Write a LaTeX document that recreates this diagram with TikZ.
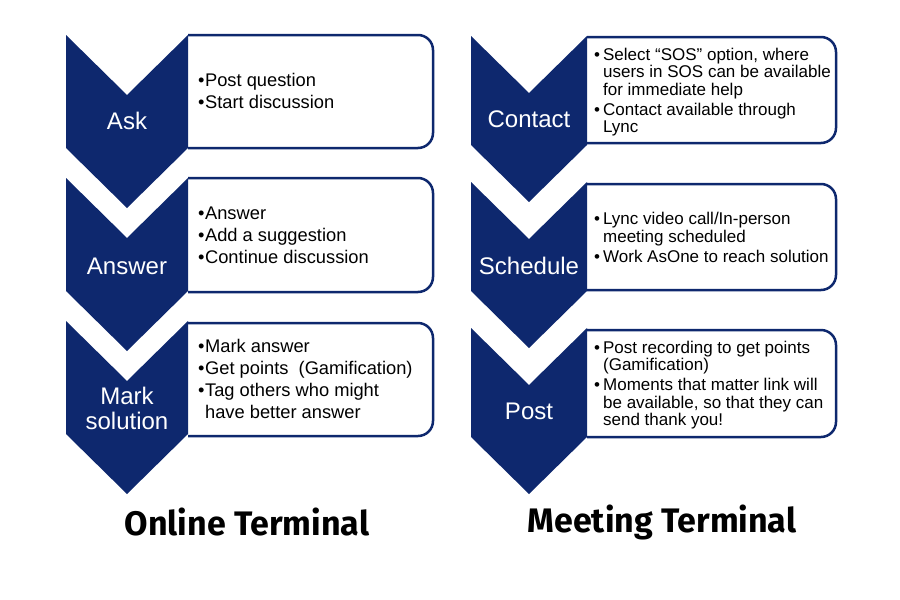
\documentclass[tikz,border=0pt]{standalone}
\usepackage{fontspec}
\setmainfont{Liberation Sans}
\newfontfamily\titlefont{Fira Sans}
\definecolor{navy}{RGB}{14,40,110}

% chevron: left x, top y, width, tip depth, side height
\newcommand{\chevronat}[5]{%
  \fill[navy] (#1,#2) -- ++(#3/2,#4) -- ++(#3/2,-#4) -- ++(0,#5)
    -- ++(-#3/2,#4) -- ++(-#3/2,-#4) -- cycle;}

\begin{document}
\begin{tikzpicture}[x=1pt, y=-1pt,
    infobox/.style={draw=navy, line width=2.5pt, fill=white, rounded corners=15pt},
    steplabel/.style={text=white, font=\fontsize{24}{25}\selectfont, align=center, inner sep=0pt},
    lefttext/.style={anchor=west, inner sep=0pt, font=\fontsize{18.3}{22}\selectfont},
    righttext/.style={anchor=west, inner sep=0pt, font=\fontsize{17}{17.5}\selectfont},
    terminal/.style={font=\titlefont\bfseries\fontsize{34}{36}\selectfont}
]
    \useasboundingbox (0,0) rectangle (900,600);

    % Online Terminal column
    \draw[infobox] (188,35) -- (433,35) -- (433,148) -- (188,148);
    \draw[infobox] (188,178) -- (433,178) -- (433,292) -- (188,292);
    \draw[infobox] (188,323) -- (433,323) -- (433,436) -- (188,436);
    \chevronat{66}{35}{122}{60}{113}
    \chevronat{66}{178}{122}{60}{113}
    \chevronat{66}{321}{122}{60}{113}

    \node[steplabel] (ask) at (127,121) {Ask};
    \node[steplabel] (answer) at (127,266) {Answer};
    \node[steplabel] (mark) at (127,408) {Mark\\solution};

    \node[lefttext] (asktxt) at (198,93) {\begin{tabular}{@{}l@{\hspace{0.5pt}}l@{}}
        • & Post question\\
        • & Start discussion
    \end{tabular}};
    \node[lefttext] (answertxt) at (198,237) {\begin{tabular}{@{}l@{\hspace{0.5pt}}l@{}}
        • & Answer\\
        • & Add a suggestion\\
        • & Continue discussion
    \end{tabular}};
    \node[lefttext] (marktxt) at (198,381) {\begin{tabular}{@{}l@{\hspace{0.5pt}}l@{}}
        • & Mark answer\\
        • & Get points \ (Gamification)\\
        • & Tag others who might\\
          & have better answer
    \end{tabular}};

    % Meeting Terminal column
    \draw[infobox] (587,37) -- (836,37) -- (836,143) -- (587,143);
    \draw[infobox] (587,184) -- (836,184) -- (836,290) -- (587,290);
    \draw[infobox] (587,330) -- (836,330) -- (836,437) -- (587,437);
    \chevronat{471}{36}{116}{57}{109}
    \chevronat{471}{182}{116}{57}{109}
    \chevronat{471}{328}{116}{57}{109}

    \node[steplabel] (contact) at (529,119) {Contact};
    \node[steplabel] (schedule) at (529,266) {Schedule};
    \node[steplabel] (post) at (529,411) {Post};

    \node[righttext] (contacttxt) at (594,93) {\begin{tabular}{@{}l@{\hspace{3pt}}l@{}}
        • & Select “SOS” option, where\\
          & users in SOS can be available\\
          & for immediate help\\[2.5pt]
        • & Contact available through\\
          & Lync
    \end{tabular}};
    \node[righttext] (scheduletxt) at (594,240) {\begin{tabular}{@{}l@{\hspace{3pt}}l@{}}
        • & Lync video call/In-person\\
          & meeting scheduled\\[2.5pt]
        • & Work AsOne to reach solution
    \end{tabular}};
    \node[righttext] (posttxt) at (594,386) {\begin{tabular}{@{}l@{\hspace{3pt}}l@{}}
        • & Post recording to get points\\
          & (Gamification)\\[2.5pt]
        • & Moments that matter link will\\
          & be available, so that they can\\
          & send thank you!
    \end{tabular}};

    % column titles
    \node[terminal] (online) at (247,522) {Online Terminal};
    \node[terminal] (meeting) at (662,522) {Meeting Terminal};
\end{tikzpicture}
\end{document}
